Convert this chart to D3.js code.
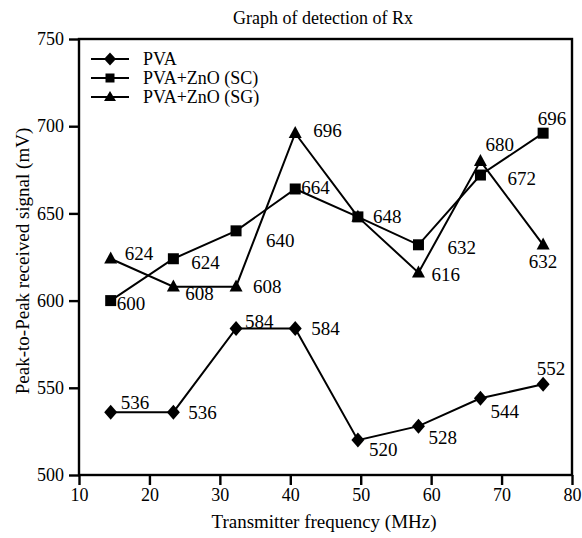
<!DOCTYPE html>
<html>
<head>
<meta charset="utf-8">
<script src="https://cdn.jsdelivr.net/npm/d3@7"></script>
<style>
  html, body { margin: 0; padding: 0; background: #fff; }
  svg { display: block; }
  text { font-family: "Liberation Serif", "Times New Roman", serif; fill: #000; }
</style>
</head>
<body>
<svg id="chart" width="582" height="538"></svg>
<script>
// ---- data ----
const frequencies = [14.5, 23.4, 32.3, 40.7, 49.6, 58.2, 67.0, 75.9];
const pvaValues   = [536, 536, 584, 584, 520, 528, 544, 552];
const scValues    = [600, 624, 640, 664, 648, 632, 672, 696];
const sgValues    = [624, 608, 608, 696, 648, 616, 680, 632];
const seriesNames = ["PVA", "PVA+ZnO (SC)", "PVA+ZnO (SG)"];
const xTickValues = [10, 20, 30, 40, 50, 60, 70, 80];
const yTickValues = [500, 550, 600, 650, 700, 750];
const chartTitle  = "Graph of detection of Rx";
const xTitle      = "Transmitter frequency (MHz)";
const yTitle      = "Peak-to-Peak received signal (mV)";

// ---- layout (label placement offsets: [dx, dy, anchor]) ----
const pvaLabelPos = [[10,-3,"start"],[15,7,"start"],[9,-1,"start"],[16,6,"start"],[11,16,"start"],[10,18,"start"],[10,20,"start"],[8,-9,"middle"]];
const scLabelPos  = [[6,9,"start"],[18,10,"start"],[30,16,"start"],[6,5,"start"],[15,6,"start"],[29,9,"start"],[27,10,"start"],[9,-8,"middle"]];
const sgLabelPos  = [[14,1,"start"],[12,13,"start"],[17,6,"start"],[18,4,"start"],null,[13,8,"start"],[5,-10,"start"],[0,23,"middle"]];

const L = 79, R = 572, T = 39, B = 475;
const svg = d3.select("#chart");
const x = d3.scaleLinear().domain([10, 80]).range([L, R]);
const y = d3.scaleLinear().domain([500, 750]).range([B, T]);

// frame
svg.append("rect").attr("x", L).attr("y", T).attr("width", R - L).attr("height", B - T)
  .attr("fill", "none").attr("stroke", "#000").attr("stroke-width", 2.4);

// axes
const xAxis = svg.append("g").attr("transform", `translate(0,${B})`)
  .call(d3.axisBottom(x).tickValues(xTickValues).tickSize(10).tickPadding(3).tickFormat(d3.format("d")));
const yAxis = svg.append("g").attr("transform", `translate(${L},0)`)
  .call(d3.axisLeft(y).tickValues(yTickValues).tickSize(10).tickPadding(5).tickFormat(d3.format("d")));
[xAxis, yAxis].forEach(g => {
  g.select(".domain").remove();
  g.selectAll(".tick line").attr("stroke", "#000").attr("stroke-width", 2.4);
  g.selectAll(".tick text").attr("font-size", 18).attr("fill", "#000");
});

// titles
svg.append("text").attr("x", 323).attr("y", 24).attr("text-anchor", "middle")
  .attr("font-size", 18).text(chartTitle);
svg.append("text").attr("x", 324).attr("y", 528).attr("text-anchor", "middle")
  .attr("font-size", 19).text(xTitle);
svg.append("text").attr("transform", `translate(29,261) rotate(-90)`)
  .attr("text-anchor", "middle").attr("font-size", 19).text(yTitle);

// markers
const diamondPath = (w, h) => `M0,${-h}L${w},0L0,${h}L${-w},0Z`;
const squarePath = s => `M${-s},${-s}H${s}V${s}H${-s}Z`;
const trianglePath = (w, h) => `M0,${-h * 0.6}L${w},${h * 0.4}L${-w},${h * 0.4}Z`;
const series = [
  { name: seriesNames[0], values: pvaValues, sym: diamondPath(6.5, 7.5), leg: diamondPath(6, 6.5), labels: pvaLabelPos },
  { name: seriesNames[1], values: scValues,  sym: squarePath(5.5),      leg: squarePath(4.5),      labels: scLabelPos },
  { name: seriesNames[2], values: sgValues,  sym: trianglePath(6.5, 12), leg: trianglePath(6, 10), labels: sgLabelPos }
];

const line = d3.line().x(d => x(d[0])).y(d => y(d[1]));
series.forEach(s => {
  const pts = frequencies.map((f, i) => [f, s.values[i]]);
  svg.append("path").datum(pts).attr("d", line)
    .attr("fill", "none").attr("stroke", "#000").attr("stroke-width", 2);
});
series.forEach(s => {
  const pts = frequencies.map((f, i) => [f, s.values[i]]);
  svg.append("g").selectAll("path").data(pts).join("path")
    .attr("d", s.sym)
    .attr("transform", d => `translate(${x(d[0])},${y(d[1])})`)
    .attr("fill", "#000");
});
series.forEach(s => {
  const pts = frequencies.map((f, i) => [f, s.values[i], s.labels[i]]).filter(d => d[2]);
  svg.append("g").selectAll("text").data(pts).join("text")
    .attr("x", d => x(d[0]) + d[2][0])
    .attr("y", d => y(d[1]) + d[2][1])
    .attr("text-anchor", d => d[2][2])
    .attr("font-size", 19)
    .text(d => d[1]);
});

// legend
const legRows = [59, 78, 97];
series.forEach((s, i) => {
  const g = svg.append("g").attr("transform", `translate(0,${legRows[i]})`);
  g.append("line").attr("x1", 91).attr("x2", 129).attr("y1", 0).attr("y2", 0)
    .attr("stroke", "#000").attr("stroke-width", 2);
  g.append("path").attr("d", s.leg).attr("transform", "translate(110,0)").attr("fill", "#000");
  g.append("text").attr("x", 143).attr("y", 6).attr("font-size", 18).text(s.name);
});
</script>
</body>
</html>
